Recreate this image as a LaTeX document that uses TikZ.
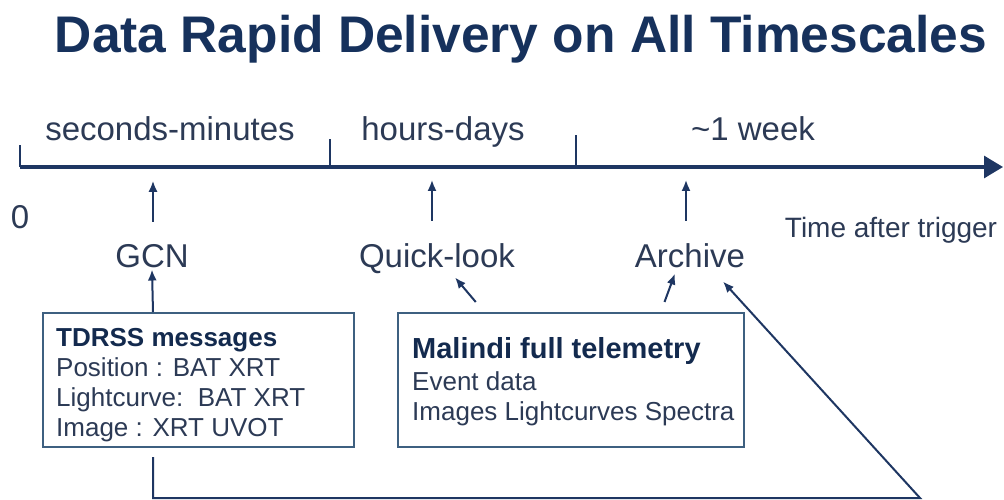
\documentclass[tikz,border=0pt]{standalone}
\usepackage{fontspec}
\setmainfont{Liberation Sans}
\usepackage{tikz}
\usetikzlibrary{arrows.meta,calc,positioning}
\usepackage{xcolor}

\definecolor{navy}{HTML}{16315C}
\definecolor{inkblue}{HTML}{2C3A55}
\definecolor{linecol}{HTML}{1E3662}
\definecolor{boxcol}{HTML}{3E6080}

\tikzset{
  lbl/.style={font=\fontsize{33}{36}\selectfont, text=inkblue, inner sep=2pt, anchor=base},
  infobox/.style={draw=boxcol, line width=1.5pt, anchor=north west, inner sep=0pt},
  infotext/.style={align=left, anchor=north west, inner sep=0pt, text=inkblue,
    font=\fontsize{26}{30}\selectfont},
  arr/.style={draw=linecol, line width=2pt, -{Latex[length=11pt,width=9pt]}},
  tick/.style={draw=linecol, line width=2pt}
}

\begin{document}
\begin{tikzpicture}[x=1pt,y=-1pt]
\useasboundingbox (0,0) rectangle (1004,500);
% title
\node[font=\bfseries\fontsize{51.5}{56}\selectfont, text=navy, anchor=base] (title) at (521,53)
  {Data Rapid Delivery on All Timescales};
% time axis
\coordinate (axis0) at (20,167);
\coordinate (axisend) at (1003,167);
\draw[draw=linecol, line width=3pt, -{Triangle[length=19pt,width=22pt]}] (axis0) -- (axisend);
\draw[tick] (axis0) -- ++(0,-22);
\draw[tick] (330,167) -- ++(0,-28);
\draw[tick] (576,167) -- ++(0,-32);
\node[lbl] (secmin) at (170,141) {seconds-minutes};
\node[lbl] (hrsdays) at (443,141) {hours-days};
\node[lbl] (week) at (753,141) {\textasciitilde1 week};
\node[lbl] (zero) at (20,228) {0};
\node[lbl, font=\fontsize{28}{30}\selectfont] (taxis) at (891,237) {Time after trigger};
% products
\node[lbl] (gcn) at (152,267) {GCN};
\node[lbl] (quick) at (437,267) {Quick-look};
\node[lbl] (archive) at (690,267) {Archive};
\foreach \n/\dx in {gcn/1,quick/-5,archive/-4}
  \draw[arr] ([xshift=\dx pt,yshift=20pt]\n.north) -- ++(0,-41);
% sources
\node[infobox, minimum width=311pt, minimum height=134pt] (tdrss) at (42,312) {};
\node[infotext] (tdrsstxt) at ([xshift=14pt,yshift=-16pt]tdrss.north west)
  {{\bfseries\color{navy!85!black}TDRSS messages}\\
   Position : BAT XRT\\
   Lightcurve:\ \ BAT XRT\\
   Image : XRT UVOT};
\node[infobox, minimum width=346pt, minimum height=134pt] (malindi) at (397,312) {};
\node[infotext] (malinditxt) at ([xshift=15pt,yshift=-25pt]malindi.north west)
  {{\bfseries\fontsize{29}{32}\selectfont\color{navy!85!black}Malindi full telemetry}\\[2pt]
   Event data\\
   Images Lightcurves Spectra};
\draw[arr] ([xshift=1pt]tdrss.north -| gcn) -- (gcn.south);
\draw[arr] ([xshift=-95pt,yshift=10pt]malindi.north) -- ([xshift=18pt,yshift=-2pt]quick.south);
\draw[arr] ([xshift=-80pt,yshift=10pt]malindi.north east) -- ([xshift=-15pt,yshift=-4pt]archive.south);
% archive loop
\coordinate (loopstart) at (153,457);
\coordinate (loopcorner) at (920,498);
\draw[arr] (loopstart) |- (loopcorner) -- ([xshift=33pt,yshift=-12pt]archive.south);
\end{tikzpicture}
\end{document}
